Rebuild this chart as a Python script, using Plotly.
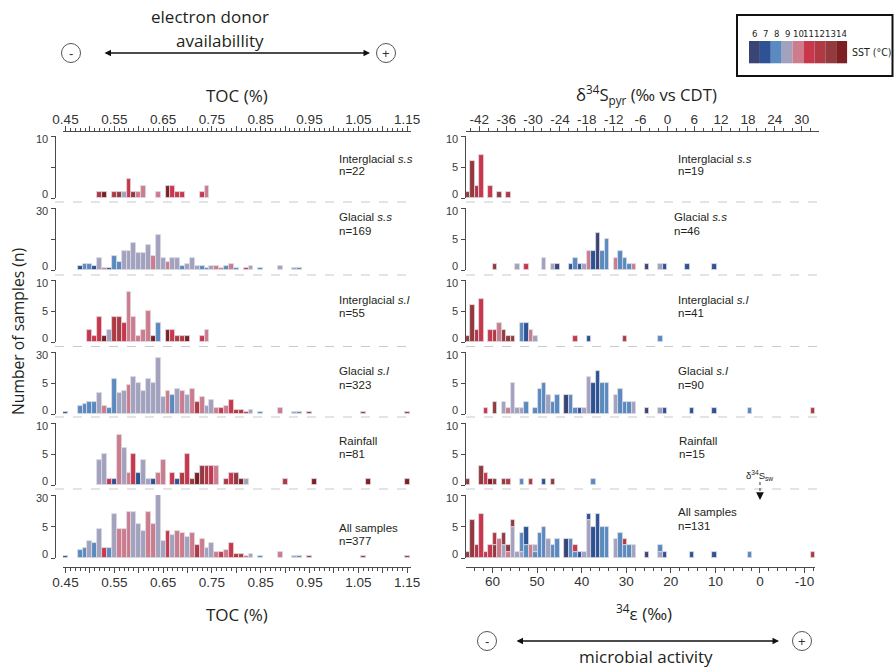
import plotly.graph_objects as go

W, H = 894, 668


def fx(p):
    return p / W


def fy(p):
    return 1 - p / H


FONT = "Liberation Sans, Arial, sans-serif"
TFONT = "Open Sans, Liberation Sans, sans-serif"
NFONT = "Liberation Sans Narrow, DejaVu Sans Condensed, Liberation Sans, sans-serif"
INK = "#231f20"
AXC = "#4a4a4a"
EDGE = "#dcdce3"

# ---------------- SST colour classes ----------------
SST_LEVELS = [6, 7, 8, 9, 10, 11, 12, 13, 14]
SST_COLORS = ["#3a4576", "#2e5394", "#5a8abf", "#a3a2be", "#cc7c8c",
              "#c8374c", "#b03943", "#933a3f", "#7d1f23"]
SST_COL = dict(zip(SST_LEVELS, SST_COLORS))

# ---------------- TOC (%) histograms (bin centre, count, SST class) ----------------
toc_igss_x = [0.52, 0.53, 0.55, 0.56, 0.57, 0.58, 0.59, 0.60, 0.61, 0.64, 0.66, 0.67, 0.68, 0.69, 0.73, 0.74]
toc_igss_n = [1, 1, 1, 1, 1, 3, 1, 1, 2, 1, 2, 2, 1, 1, 1, 2]
toc_igss_sst = [12, 14, 12, 13, 9, 11, 13, 10, 10, 10, 14, 11, 11, 11, 11, 10]

toc_gss_x = [0.48, 0.49, 0.50, 0.51, 0.52, 0.53, 0.54, 0.55, 0.56, 0.57, 0.58, 0.59, 0.60, 0.61, 0.62,
             0.63, 0.64, 0.65, 0.66, 0.67, 0.68, 0.69, 0.70, 0.71, 0.72, 0.73, 0.74, 0.75, 0.76, 0.77,
             0.78, 0.79, 0.80, 0.82, 0.83, 0.85, 0.89, 0.92, 0.93]
toc_gss_n = [2, 3, 3, 2, 6, 1, 1, 7, 4, 9, 9, 13, 8, 8, 12, 7, 17, 6, 4, 6, 6, 2, 3, 6, 2, 2, 1, 2, 2, 1,
             2, 3, 1, 1, 2, 1, 2, 1, 1]
toc_gss_sst = [7, 8, 8, 7, 9, 10, 7, 8, 8, 9, 9, 9, 9, 9, 9, 10, 9, 9, 10, 9, 9, 8, 9, 9, 9, 8, 8, 9, 10, 10,
               8, 10, 8, 11, 9, 8, 9, 9, 8]

toc_igsl_x = [0.50, 0.51, 0.52, 0.53, 0.54, 0.55, 0.56, 0.57, 0.58, 0.59, 0.60, 0.61, 0.62, 0.63, 0.64,
              0.66, 0.67, 0.68, 0.69, 0.70, 0.73, 0.74]
toc_igsl_n = [2, 1, 4, 1, 2, 4, 4, 3, 8, 4, 1, 2, 5, 1, 3, 2, 2, 1, 1, 1, 1, 2]
toc_igsl_sst = [11, 11, 11, 14, 9, 12, 12, 11, 10, 10, 10, 10, 10, 14, 8, 14, 11, 12, 12, 14, 11, 10]

toc_gsl_x = [0.45, 0.48, 0.49, 0.50, 0.51, 0.52, 0.53, 0.54, 0.55, 0.56, 0.57, 0.58, 0.59, 0.60, 0.61,
             0.62, 0.63, 0.64, 0.65, 0.66, 0.67, 0.68, 0.69, 0.70, 0.71, 0.72, 0.73, 0.74, 0.75, 0.76,
             0.77, 0.78, 0.79, 0.80, 0.81, 0.82, 0.83, 0.85, 0.89, 0.92, 0.93, 0.95, 1.06, 1.15]
toc_gsl_n = [1, 4, 5, 6, 6, 10, 4, 3, 17, 10, 11, 14, 18, 15, 11, 17, 15, 27, 8, 11, 9, 12, 11, 9, 12,
             6, 8, 4, 7, 3, 3, 4, 7, 2, 2, 1, 2, 1, 3, 1, 1, 1, 1, 1]
toc_gsl_sst = [7, 8, 8, 8, 8, 9, 10, 8, 8, 9, 9, 10, 9, 9, 9, 9, 9, 9, 9, 10, 8, 9, 10, 9, 10,
               12, 10, 9, 9, 10, 11, 10, 11, 12, 12, 11, 9, 8, 10, 9, 8, 13, 13, 13]

toc_rain_x = [0.52, 0.53, 0.54, 0.55, 0.56, 0.57, 0.58, 0.59, 0.60, 0.61, 0.62, 0.63, 0.64, 0.65,
              0.67, 0.68, 0.69, 0.70, 0.71, 0.72, 0.73, 0.74, 0.75, 0.76, 0.78, 0.79, 0.80, 0.81,
              0.82, 0.90, 0.96, 1.07, 1.15]
toc_rain_n = [4, 5, 1, 1, 8, 6, 2, 5, 2, 4, 1, 1, 2, 4, 2, 1, 2, 5, 1, 2, 3, 3, 3, 3, 1, 2, 2, 1,
              1, 1, 1, 1, 1]
toc_rain_sst = [9, 9, 11, 7, 10, 9, 10, 11, 7, 9, 9, 7, 10, 10, 11, 7, 12, 11, 13, 14, 13, 12, 11, 10,
                12, 11, 13, 14, 9, 12, 14, 14, 14]

toc_all_x = [0.45, 0.48, 0.49, 0.50, 0.51, 0.52, 0.53, 0.54, 0.55, 0.56, 0.57, 0.58, 0.59, 0.60, 0.61,
             0.62, 0.63, 0.64, 0.65, 0.66, 0.67, 0.68, 0.69, 0.70, 0.71, 0.72, 0.73, 0.74, 0.75, 0.76,
             0.77, 0.78, 0.79, 0.80, 0.81, 0.82, 0.83, 0.85, 0.89, 0.92, 0.93, 0.95, 1.06, 1.15]
toc_all_n = [1, 4, 5, 8, 7, 14, 5, 5, 21, 14, 14, 22, 22, 16, 13, 22, 16, 30, 8, 13, 11, 13, 12, 10, 12,
             6, 9, 5, 7, 3, 3, 4, 7, 2, 2, 1, 2, 1, 3, 1, 1, 1, 1, 1]
toc_all_sst = [7, 8, 8, 9, 8, 9, 11, 8, 9, 10, 10, 10, 9, 9, 9, 10, 10, 9, 9, 11, 9, 10, 10, 9, 10,
               12, 10, 9, 9, 10, 11, 10, 11, 12, 12, 10, 9, 8, 10, 9, 8, 13, 13, 13]

# ---------------- d34S_pyr histograms (bin left edge, count, SST class) ----------------
d_igss_x = [-45, -44, -43, -42, -40, -38, -36]
d_igss_n = [1, 6, 2, 7, 2, 1, 1]
d_igss_sst = [13, 13, 12, 11, 11, 13, 12]

d_gss_x = [-39, -34, -32, -28, -26, -25, -22, -21, -20, -19, -18, -17, -16, -15, -14, -12, -11, -10,
           -9, -8, -5, -2, -1, 4, 10]
d_gss_n = [1, 1, 1, 2, 1, 1, 1, 2, 1, 1, 3, 3, 6, 3, 5, 2, 3, 2, 1, 1, 1, 1, 1, 1, 1]
d_gss_sst = [13, 9, 11, 9, 9, 6, 7, 8, 7, 9, 10, 7, 6, 8, 8, 10, 8, 8, 8, 10, 6, 9, 7, 7, 7]

d_igsl_x = [-45, -44, -43, -42, -40, -39, -38, -37, -36, -35, -33, -32, -31, -30, -21, -18, -10, -2]
d_igsl_n = [1, 6, 2, 7, 2, 2, 3, 2, 1, 1, 3, 3, 2, 1, 1, 1, 1, 1]
d_igsl_sst = [13, 13, 12, 11, 11, 12, 10, 13, 13, 13, 8, 7, 10, 9, 11, 7, 12, 8]

d_gsl_x = [-41, -39, -37, -36, -35, -34, -33, -32, -30, -29, -28, -27, -26, -25, -23, -22, -21, -20,
           -19, -18, -17, -16, -15, -14, -12, -11, -10, -9, -8, -5, -2, -1, 5, 10, 18, 32]
d_gsl_n = [1, 2, 2, 1, 5, 1, 1, 2, 1, 4, 5, 3, 2, 3, 3, 3, 1, 1, 1, 6, 5, 7, 5, 5, 3, 4, 2, 2, 2,
           1, 1, 1, 1, 1, 1, 1]
d_gsl_sst = [11, 13, 9, 10, 9, 9, 9, 8, 8, 8, 8, 9, 8, 8, 6, 8, 8, 7, 9, 9, 7, 7, 8, 8, 9, 8, 8, 8, 9,
             6, 9, 7, 7, 7, 8, 12]

d_rain_x = [-45, -42, -41, -40, -39, -37, -36, -33, -31, -28, -26, -17]
d_rain_n = [1, 3, 2, 1, 1, 1, 1, 1, 1, 1, 1, 1]
d_rain_sst = [13, 13, 11, 14, 13, 13, 12, 8, 12, 7, 13, 8]

# ---------------- axis ticks ----------------
toc_ticks = [0.45, 0.50, 0.55, 0.60, 0.65, 0.70, 0.75, 0.80, 0.85, 0.90, 0.95, 1.00, 1.05, 1.10, 1.15]
toc_labels = ["0.45", "", "0.55", "", "0.65", "", "0.75", "", "0.85", "", "0.95", "", "1.05", "", "1.15"]
d_ticks = [-42, -36, -30, -24, -18, -12, -6, 0, 6, 12, 18, 24, 30]
d_labels = ["-42", "-36", "-30", "-24", "-18", "-12", "-6", "0", "6", "12", "18", "24", "30"]
eps_ticks = [60, 50, 40, 30, 20, 10, 0, -10]
eps_labels = ["60", "50", "40", "30", "20", "10", "0", "-10"]

toc_minor = [round(0.45 + 0.01 * i, 2) for i in range(71) if i % 5]
d_minor = [v for v in range(-44, 34, 2) if v % 6]
eps_minor = [v for v in range(-12, 66, 2) if v % 10]

# ---------------- panels ----------------
ROWS = [(136, 198), (208, 270), (280, 342), (352, 414), (423, 485), (495, 558)]

left_panels = [
    (toc_igss_x, toc_igss_n, toc_igss_sst, 10, ["0", "", "10"], "Interglacial <i>s.s</i>", "n=22"),
    (toc_gss_x, toc_gss_n, toc_gss_sst, 30, ["0", "", "30"], "Glacial <i>s.s</i>", "n=169"),
    (toc_igsl_x, toc_igsl_n, toc_igsl_sst, 10, ["0", "5", "10"], "Interglacial <i>s.l</i>", "n=55"),
    (toc_gsl_x, toc_gsl_n, toc_gsl_sst, 30, ["0", "5", "30"], "Glacial <i>s.l</i>", "n=323"),
    (toc_rain_x, toc_rain_n, toc_rain_sst, 10, ["0", "5", "10"], "Rainfall", "n=81"),
    (toc_all_x, toc_all_n, toc_all_sst, 30, ["0", "5", "30"], "All samples", "n=377"),
]
left_lab_y = [(159, 171), (216.7, 230.7), (300, 313.3), (371, 385), (441, 454.3), (527.7, 541)]

right_panels = [
    (d_igss_x, d_igss_n, d_igss_sst, "Interglacial <i>s.s</i>", "n=19"),
    (d_gss_x, d_gss_n, d_gss_sst, "Glacial <i>s.s</i>", "n=46"),
    (d_igsl_x, d_igsl_n, d_igsl_sst, "Interglacial <i>s.l</i>", "n=41"),
    (d_gsl_x, d_gsl_n, d_gsl_sst, "Glacial <i>s.l</i>", "n=90"),
    (d_rain_x, d_rain_n, d_rain_sst, "Rainfall", "n=15"),
    (None, None, None, "All samples", "n=131"),
]
right_lab = [(675.7, 159, 171), (672.3, 216.7, 230.7), (675.7, 300, 313), (675.7, 371, 385),
             (677.3, 441, 454), (676, 512.3, 526)]

fig = go.Figure()
layout = {}
annotations = []
shapes = []


def ann(text, x, y, size, xanchor="center", yanchor="middle", family=FONT, color=INK, angle=0):
    annotations.append(dict(text=text, x=fx(x), y=fy(y), xref="paper", yref="paper",
                            xanchor=xanchor, yanchor=yanchor, showarrow=False, textangle=angle,
                            font=dict(size=size, family=family, color=color)))


def yaxis_cfg(row, ymax, ticktext, xpos):
    top, base = ROWS[row]
    # tick labels are set as text next to the ticks (shifted inward as in the reference)
    lx = xpos - 5
    ann(ticktext[2], lx, top + 3, 11, xanchor="right", color="#3a3a3a")
    if ticktext[1]:
        ann(ticktext[1], lx, (top + base) / 2, 11, xanchor="right", color="#3a3a3a")
    ann(ticktext[0], lx, base - 4, 11, xanchor="right", color="#3a3a3a")
    return dict(domain=[fy(base), fy(top)], range=[0, ymax], anchor="free", position=fx(xpos),
                tickmode="array", tickvals=[0, ymax / 2, ymax], showticklabels=False,
                ticks="outside", ticklen=4, tickcolor=AXC, tickwidth=1,
                showline=True, linecolor=AXC, linewidth=1.3, showgrid=False, zeroline=False,
                automargin=False, fixedrange=True)


# left column
for i, (xs, ns, ss, ymax, tt, lab, nlab) in enumerate(left_panels):
    yname = "y" if i == 0 else f"y{i + 1}"
    key = "yaxis" if i == 0 else f"yaxis{i + 1}"
    fig.add_trace(go.Bar(x=xs, y=ns, width=0.01, xaxis="x", yaxis=yname,
                         marker=dict(color=[SST_COL[s] for s in ss], line=dict(color=EDGE, width=0.8)),
                         hoverinfo="x+y"))
    layout[key] = yaxis_cfg(i, ymax, tt, 55)
    ann(lab, 337, left_lab_y[i][0], 11.5, xanchor="left")
    ann(nlab, 337, left_lab_y[i][1], 11.5, xanchor="left")

# right column
for i, (xs, ns, ss, lab, nlab) in enumerate(right_panels):
    j = i + 7
    yname = f"y{j}"
    key = f"yaxis{j}"
    if xs is not None:
        fig.add_trace(go.Bar(x=xs, y=ns, width=1, offset=0, xaxis="x3", yaxis=yname,
                             marker=dict(color=[SST_COL[s] for s in ss], line=dict(color=EDGE, width=0.8)),
                             hoverinfo="x+y"))
    else:
        # all samples = glacial s.l stacked with interglacial s.l
        segs = {}
        for sx, sn, sc in [(d_gsl_x, d_gsl_n, d_gsl_sst), (d_igsl_x, d_igsl_n, d_igsl_sst)]:
            for x, n, s in zip(sx, sn, sc):
                segs.setdefault(x, []).append((n, s))
        bx, by, bb, bc = [], [], [], []
        for x in sorted(segs):
            b = 0
            for n, s in segs[x]:
                bx.append(x)
                by.append(n)
                bb.append(b)
                bc.append(SST_COL[s])
                b += n
        fig.add_trace(go.Bar(x=bx, y=by, base=bb, width=1, offset=0, xaxis="x3", yaxis=yname,
                             marker=dict(color=bc, line=dict(color=EDGE, width=0.8)),
                             hoverinfo="x+y"))
    layout[key] = yaxis_cfg(i, 10, ["0", "5", "10"], 465)
    lx, ly1, ly2 = right_lab[i]
    ann(lab, lx, ly1, 11.5, xanchor="left")
    ann(nlab, lx, ly2, 11.5, xanchor="left")

# invisible traces so the two bottom axes are drawn
fig.add_trace(go.Scatter(x=[0.5], y=[-100], xaxis="x2", yaxis="y6", mode="markers",
                         marker=dict(opacity=0), hoverinfo="skip"))
fig.add_trace(go.Scatter(x=[0], y=[-100], xaxis="x4", yaxis="y12", mode="markers",
                         marker=dict(opacity=0), hoverinfo="skip"))


def xaxis_cfg(d0, d1, rng, ypos, side, tv, tt, minor):
    return dict(domain=[fx(d0), fx(d1)], range=rng, anchor="free", position=fy(ypos), side=side,
                tickmode="array", tickvals=tv, ticktext=tt, ticks="outside", ticklen=5,
                tickcolor=AXC, tickwidth=1, showline=True, linecolor=AXC, linewidth=1.2,
                showgrid=False, zeroline=False, fixedrange=True, automargin=False,
                ticklabelstandoff=-3,
                tickfont=dict(size=13.5, family=FONT, color="#333333"),
                minor=dict(tickmode="array", tickvals=minor, ticks="outside", ticklen=3,
                           tickcolor=AXC, tickwidth=1, showgrid=False))


toc_range = [0.44488, 1.15697]
layout["xaxis"] = xaxis_cfg(63, 410.5, toc_range, 131, "top", toc_ticks, toc_labels, toc_minor)
layout["xaxis2"] = xaxis_cfg(63, 410.5, toc_range, 567.3, "bottom", toc_ticks, toc_labels, toc_minor)
layout["xaxis3"] = xaxis_cfg(466, 819, [-44.97, 33.86], 131, "top", d_ticks, d_labels, d_minor)
layout["xaxis4"] = xaxis_cfg(466, 815, [65.95, -12.34], 566.7, "bottom", eps_ticks, eps_labels, eps_minor)

# dashed separators between panels
for ysep in [202, 275, 346.5, 417, 489]:
    for x0, x1 in [(55, 409), (466, 819)]:
        shapes.append(dict(type="line", xref="paper", yref="paper", x0=fx(x0), x1=fx(x1),
                           y0=fy(ysep), y1=fy(ysep), line=dict(color="#c9c9c9", width=1, dash="dash")))

# axis titles
ann("Number of samples (n)", 18, 332, 15.7, angle=-90, family=TFONT)
ann("TOC (%)", 237, 95, 17, family=TFONT)
ann("TOC (%)", 237, 614, 17, family=TFONT)
ann("δ<sup>34</sup>S<sub>pyr</sub> (‰ vs CDT)", 646, 95, 16.7, family=TFONT)
ann("<sup>34</sup>ε (‰)", 644, 612, 17, family=TFONT)

# process annotations with arrows
ann("electron donor", 210, 17, 17, family=TFONT)
ann("availabillity", 220, 40, 17, family=TFONT)
ann("microbial activity", 646, 656, 17, family=TFONT)
for cx, cy, sym in [(71, 53, "-"), (386, 53, "+"), (487, 641, "-"), (802, 641, "+")]:
    shapes.append(dict(type="circle", xref="paper", yref="paper", x0=fx(cx - 9.5), x1=fx(cx + 9.5),
                       y0=fy(cy + 9.5), y1=fy(cy - 9.5), line=dict(color="#555555", width=1)))
    ann(sym, cx, cy, 13, family=FONT, color="#333333")
for x_head, x_tail, yy in [(370, 103, 53), (779, 515, 641)]:
    annotations.append(dict(text="", x=fx(x_head), y=fy(yy), xref="paper", yref="paper",
                            ax=x_tail - x_head, ay=0, showarrow=True, arrowhead=2, arrowside="end+start",
                            arrowsize=1, arrowwidth=1.3, arrowcolor="#111111"))

# d34S seawater marker at epsilon = 0
annotations.append(dict(text="δ<sup>34</sup>S<sub>sw</sub>", x=0, y=fy(475), xref="x4", yref="paper",
                        showarrow=False, xanchor="center", yanchor="middle",
                        font=dict(size=9.5, family=FONT, color=INK)))
shapes.append(dict(type="line", xref="x4", yref="paper", x0=0, x1=0, y0=fy(482), y1=fy(494),
                   line=dict(color="#333333", width=1, dash="dot")))
annotations.append(dict(text="", x=0, y=fy(500), xref="x4", yref="paper", ax=0, ay=-7,
                        showarrow=True, arrowhead=2, arrowsize=1.1, arrowwidth=1.4, arrowcolor="#111111"))

# SST colour legend
shapes.append(dict(type="rect", xref="paper", yref="paper", x0=fx(737), x1=fx(892.5), y0=fy(76), y1=fy(15),
                   line=dict(color="#111111", width=2), fillcolor="rgba(0,0,0,0)"))
sw = 10.9
for k, (lev, col) in enumerate(zip(SST_LEVELS, SST_COLORS)):
    x0 = 749 + k * sw
    shapes.append(dict(type="rect", xref="paper", yref="paper", x0=fx(x0), x1=fx(x0 + sw),
                       y0=fy(63.3), y1=fy(41), line=dict(width=0), fillcolor=col))
    ann(str(lev), x0 + sw / 2, 33, 9.5, family=NFONT)
ann("SST (°C)", 850, 52, 10.5, xanchor="left", family=NFONT)

layout.update(dict(template="none", width=W, height=H,
                   margin=dict(l=0, r=0, t=0, b=0, pad=0, autoexpand=False),
                   paper_bgcolor="white", plot_bgcolor="rgba(0,0,0,0)", barmode="overlay",
                   showlegend=False, bargap=0,
                   annotations=annotations, shapes=shapes, font=dict(family=FONT, color=INK)))
fig.update_layout(**layout)
fig.write_html("out.html", config={"displayModeBar": False},
               post_script="document.body.style.margin='0px';document.body.style.padding='0px';"
                           "document.body.style.overflow='hidden';")
